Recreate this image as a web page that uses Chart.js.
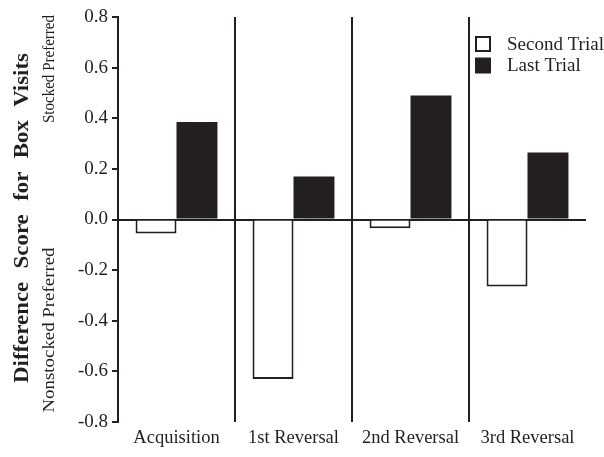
<!DOCTYPE html>
<html>
<head>
<meta charset="utf-8">
<script src="https://cdn.jsdelivr.net/npm/chart.js@4.4.0/dist/chart.umd.min.js"></script>
<style>
  html, body { margin: 0; padding: 0; background: #fff; }
  #wrap { width: 604px; height: 457px; }
</style>
</head>
<body>
<div id="wrap"><canvas id="c" width="604" height="457"></canvas></div>
<script>
// Phases of the experiment
const phases = ['Acquisition', '1st Reversal', '2nd Reversal', '3rd Reversal'];
// Mean difference scores per phase
const secondTrial = [-0.055, -0.63, -0.035, -0.265];
const lastTrial = [0.385, 0.17, 0.49, 0.265];
const seriesNames = ['Second Trial', 'Last Trial'];
// Y axis range and step
const yMin = -0.8, yMax = 0.8, yStep = 0.2;

const ink = '#231f20';
const serif = '"Liberation Serif", "Times New Roman", serif';

// Draw rotated text stretched/condensed to a given length, centred on (cx, cy)
function verticalText(ctx, text, cx, cy, font, length, wordGap) {
  ctx.save();
  ctx.font = font;
  if (wordGap && 'wordSpacing' in ctx) ctx.wordSpacing = wordGap + 'px';
  const w = ctx.measureText(text).width;
  ctx.translate(cx, cy);
  ctx.rotate(-Math.PI / 2);
  ctx.scale(length / w, 1);
  ctx.textAlign = 'center';
  ctx.textBaseline = 'middle';
  ctx.fillText(text, 0, 0);
  ctx.restore();
}

// Side captions and the hand-placed legend
const annotations = {
  id: 'annotations',
  afterDraw(chart) {
    const { ctx } = chart;
    ctx.save();
    ctx.fillStyle = ink;

    verticalText(ctx, 'Difference Score for Box Visits', 23, 218, 'bold 21px ' + serif, 330, 7);
    verticalText(ctx, 'Stocked Preferred', 50, 69, '16px ' + serif, 108);
    verticalText(ctx, 'Nonstocked Preferred', 50, 330, '16px ' + serif, 165);

    // Legend
    const lx = 476, rows = [44, 65.5];
    chart.data.datasets.forEach((ds, i) => {
      const cy = rows[i];
      ctx.fillStyle = ds.backgroundColor;
      ctx.fillRect(lx, cy - 7, 14, 14);
      ctx.strokeStyle = ink;
      ctx.lineWidth = 2;
      ctx.strokeRect(lx, cy - 7, 14, 14);
      ctx.fillStyle = ink;
      ctx.font = '19px ' + serif;
      ctx.textAlign = 'left';
      ctx.textBaseline = 'middle';
      ctx.fillText(ds.label, 507, cy + 1);
    });
    ctx.restore();
  }
};

new Chart(document.getElementById('c'), {
  type: 'bar',
  data: {
    labels: phases,
    datasets: [
      {
        label: seriesNames[0],
        data: secondTrial,
        backgroundColor: '#ffffff',
        borderColor: ink,
        borderWidth: 2,
        categoryPercentage: 0.7,
        barPercentage: 1.0
      },
      {
        label: seriesNames[1],
        data: lastTrial,
        backgroundColor: ink,
        borderColor: ink,
        borderWidth: 0,
        categoryPercentage: 0.7,
        barPercentage: 1.0
      }
    ]
  },
  options: {
    responsive: false,
    animation: false,
    layout: { padding: { left: 0, top: 17, right: 18, bottom: 0 } },
    plugins: {
      legend: { display: false },
      tooltip: { enabled: false }
    },
    scales: {
      x: {
        offset: true,
        afterFit(scale) { scale.height = 35; },
        border: { display: false },
        grid: {
          offset: true,
          drawTicks: false,
          lineWidth: 2,
          color: ctx => (ctx.type === 'tick' && ctx.index > 0) ? ink : 'transparent'
        },
        ticks: {
          color: ink,
          padding: 5,
          font: { family: serif, size: 18.5 }
        }
      },
      y: {
        z: 1,
        min: yMin,
        max: yMax,
        afterFit(scale) { scale.width = 118; },
        border: { display: true, color: ink, width: 2 },
        grid: {
          drawTicks: true,
          tickLength: 6,
          tickColor: ink,
          lineWidth: 2,
          color: ctx => (ctx.tick && Math.abs(ctx.tick.value) < 1e-9) ? ink : 'transparent'
        },
        ticks: {
          stepSize: yStep,
          color: ink,
          padding: 4,
          font: { family: serif, size: 19 },
          callback: v => (Math.abs(v) < 1e-9 ? 0 : v).toFixed(1)
        }
      }
    }
  },
  plugins: [annotations]
});
</script>
</body>
</html>
